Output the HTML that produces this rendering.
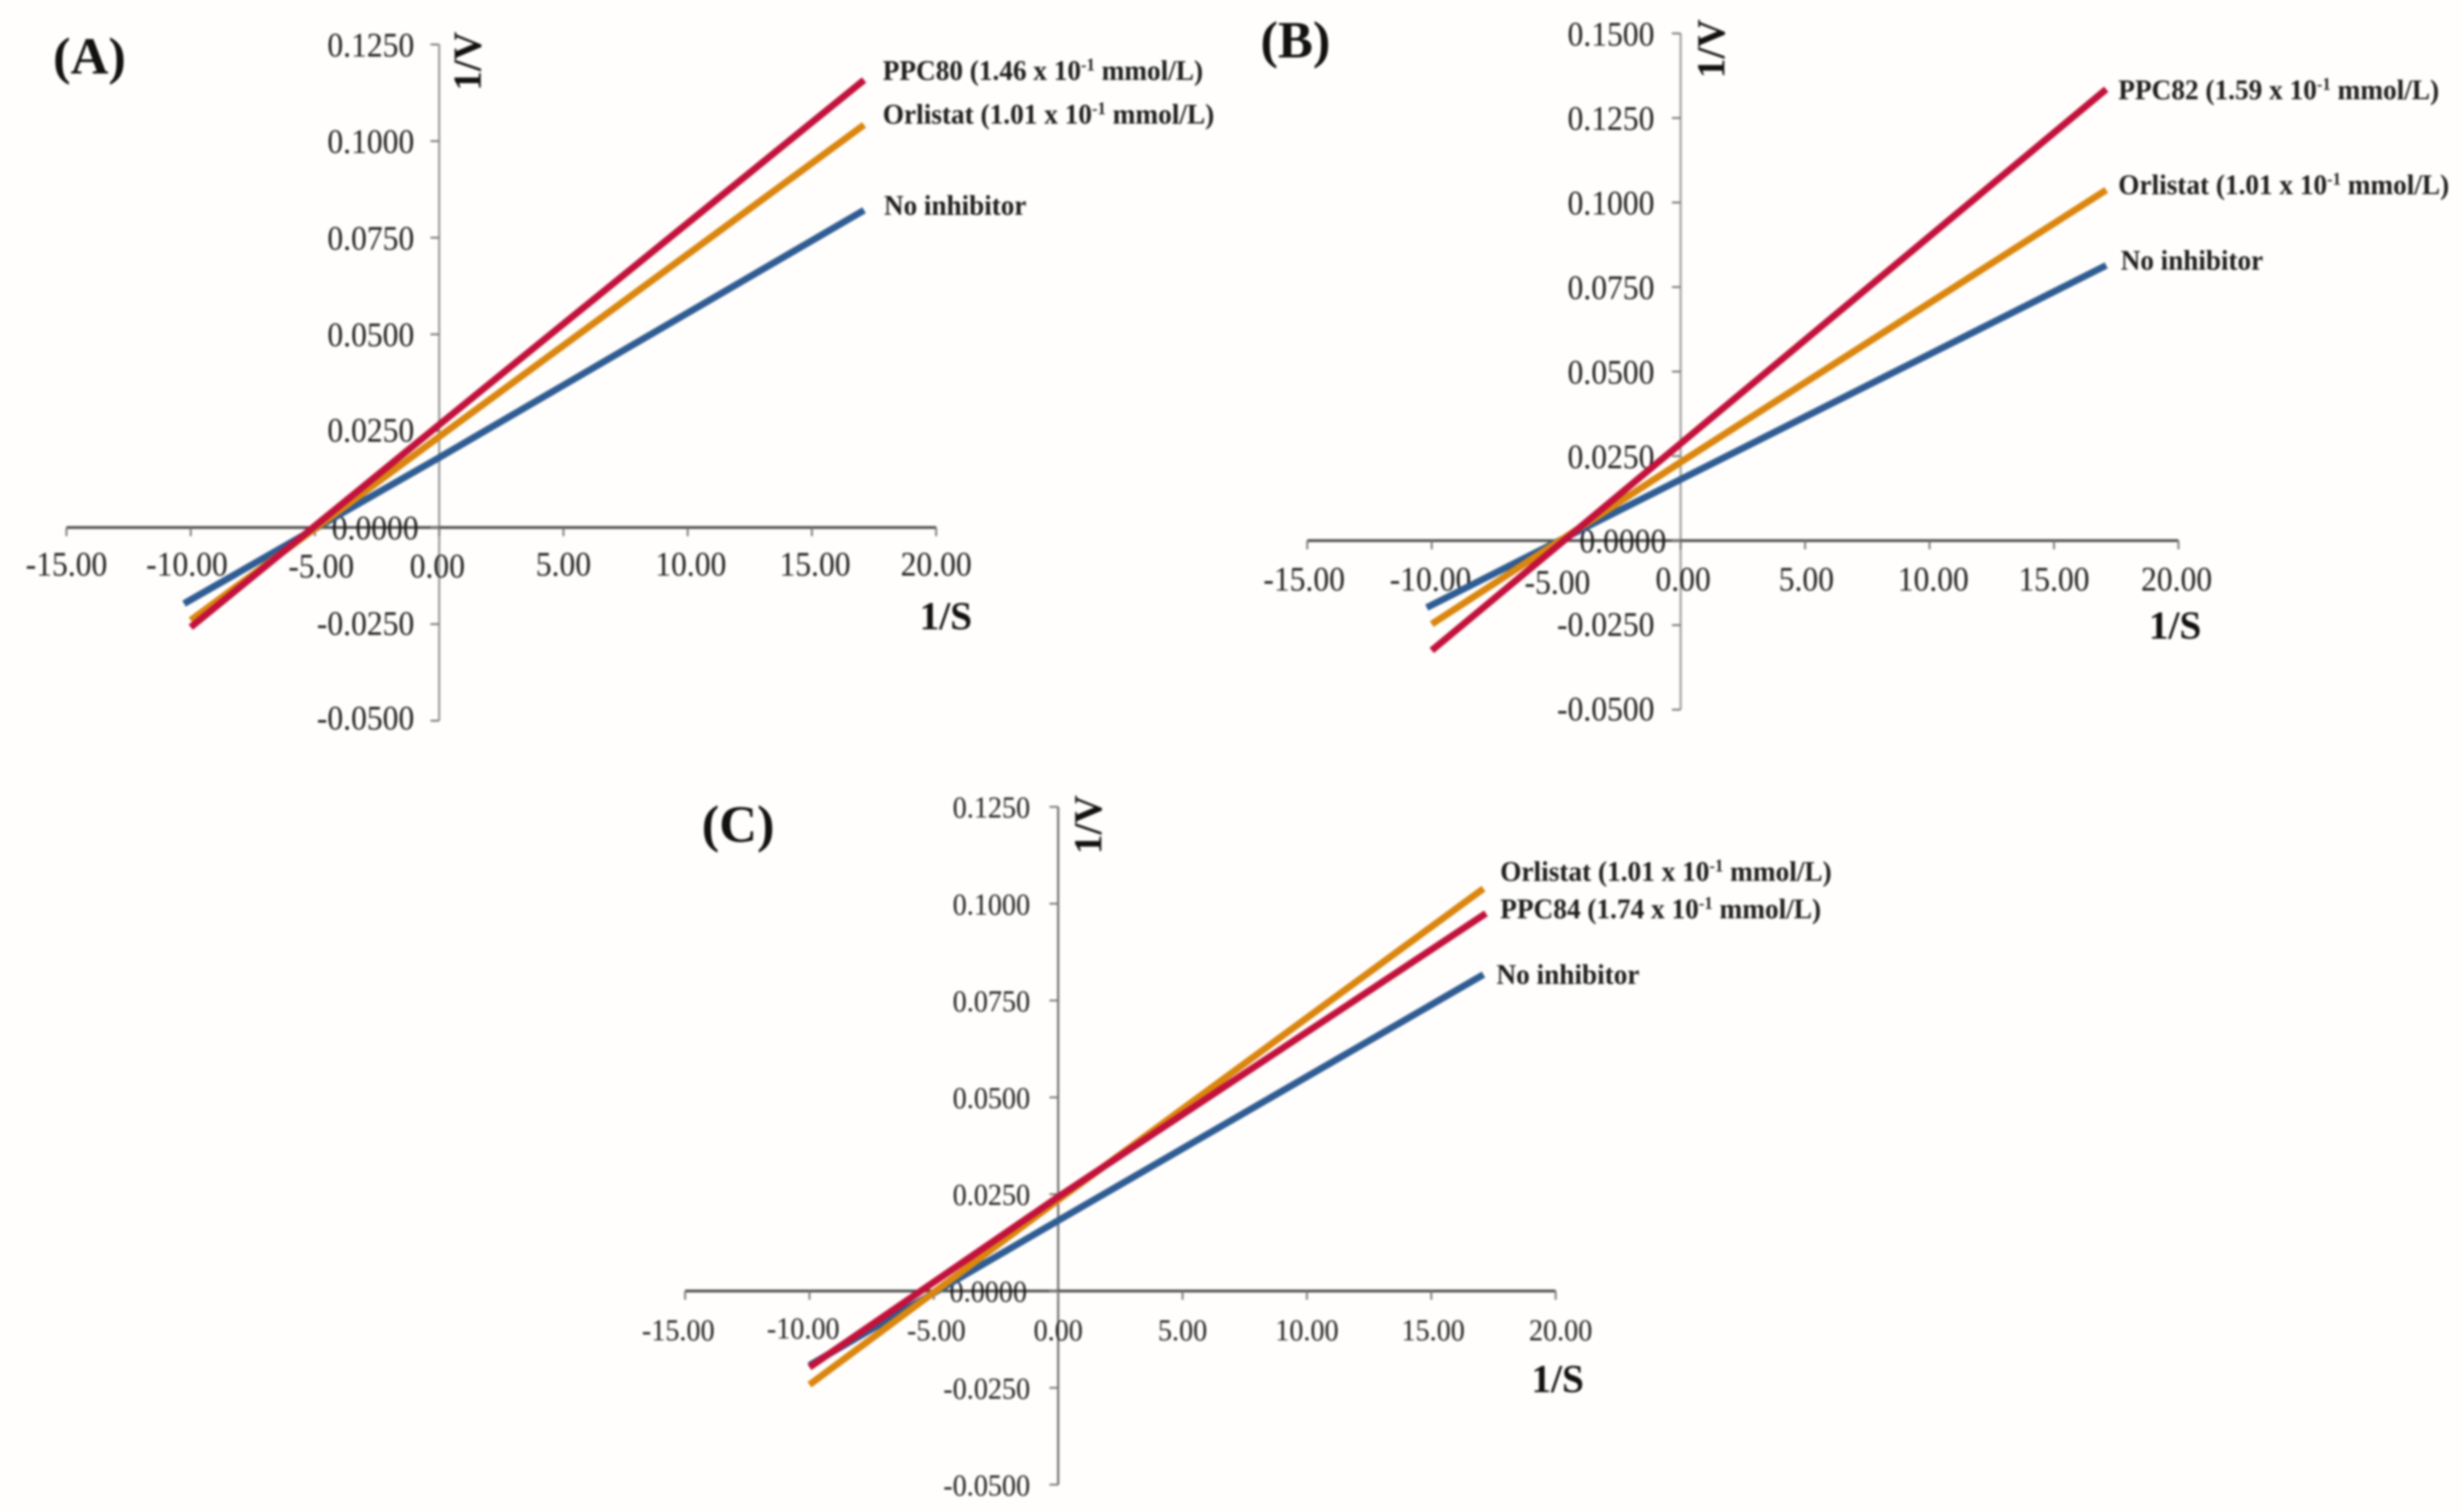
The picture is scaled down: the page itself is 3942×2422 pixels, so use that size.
<!DOCTYPE html>
<html lang="en">
<head>
<meta charset="utf-8">
<title>Lineweaver-Burk plots</title>
<style>
html,body{margin:0;padding:0;background:#fffefc;}
svg{display:block;filter:blur(1.8px);}
text{font-family:"Liberation Serif",serif;fill:#1c1c1c;}
.lab{font-weight:bold;font-size:46px;}
.sup{font-size:28px;}
.title{font-weight:bold;font-size:63px;fill:#111;}
.panel{font-weight:bold;font-size:84px;fill:#111;}
</style>
</head>
<body>
<svg id="chart" xmlns="http://www.w3.org/2000/svg" width="3942" height="2422" viewBox="0 0 3942 2422">
<rect x="0" y="0" width="3942" height="2422" fill="#fffefc"/>
<g id="panelA"></g>
<g id="panelB"></g>
<g id="panelC"></g>
<g>
<text class="panel" x="85" y="118">(A)</text>
<text class="title" transform="translate(770,98) rotate(-90)" text-anchor="middle">1/V</text>
<text class="title" x="1515" y="1008" text-anchor="middle">1/S</text>
<text class="lab" x="1414" y="128" textLength="513" lengthAdjust="spacingAndGlyphs">PPC80 (1.46 x 10<tspan class="sup" dy="-15">-1</tspan><tspan dy="15"> mmol/L)</tspan></text>
<text class="lab" x="1414" y="198" textLength="531" lengthAdjust="spacingAndGlyphs">Orlistat (1.01 x 10<tspan class="sup" dy="-15">-1</tspan><tspan dy="15"> mmol/L)</tspan></text>
<text class="lab" x="1416" y="344" textLength="228" lengthAdjust="spacingAndGlyphs">No inhibitor</text>
</g>
<g>
<text class="panel" x="2019" y="92">(B)</text>
<text class="title" transform="translate(2762,78) rotate(-90)" text-anchor="middle">1/V</text>
<text class="title" x="3484" y="1023" text-anchor="middle">1/S</text>
<text class="lab" x="3393" y="159" textLength="514" lengthAdjust="spacingAndGlyphs">PPC82 (1.59 x 10<tspan class="sup" dy="-15">-1</tspan><tspan dy="15"> mmol/L)</tspan></text>
<text class="lab" x="3393" y="311" textLength="530" lengthAdjust="spacingAndGlyphs">Orlistat (1.01 x 10<tspan class="sup" dy="-15">-1</tspan><tspan dy="15"> mmol/L)</tspan></text>
<text class="lab" x="3397" y="432" textLength="228" lengthAdjust="spacingAndGlyphs">No inhibitor</text>
</g>
<g>
<text class="panel" x="1124" y="1348">(C)</text>
<text class="title" transform="translate(1764,1321) rotate(-90)" text-anchor="middle">1/V</text>
<text class="title" x="2495" y="2230" text-anchor="middle">1/S</text>
<text class="lab" x="2403" y="1411" textLength="531" lengthAdjust="spacingAndGlyphs">Orlistat (1.01 x 10<tspan class="sup" dy="-15">-1</tspan><tspan dy="15"> mmol/L)</tspan></text>
<text class="lab" x="2403" y="1471" textLength="514" lengthAdjust="spacingAndGlyphs">PPC84 (1.74 x 10<tspan class="sup" dy="-15">-1</tspan><tspan dy="15"> mmol/L)</tspan></text>
<text class="lab" x="2397" y="1576" textLength="229" lengthAdjust="spacingAndGlyphs">No inhibitor</text>
</g>
</svg>
<script>
// Axis ticks
const xTickValues = [-15, -10, -5, 0, 5, 10, 15, 20];
const xTickLabels = ["-15.00", "-10.00", "-5.00", "0.00", "5.00", "10.00", "15.00", "20.00"];
const yTickValuesAC = [-0.05, -0.025, 0, 0.025, 0.05, 0.075, 0.1, 0.125];
const yTickLabelsAC = ["-0.0500", "-0.0250", "0.0000", "0.0250", "0.0500", "0.0750", "0.1000", "0.1250"];
const yTickValuesB = [-0.05, -0.025, 0, 0.025, 0.05, 0.075, 0.1, 0.125, 0.15];
const yTickLabelsB = ["-0.0500", "-0.0250", "0.0000", "0.0250", "0.0500", "0.0750", "0.1000", "0.1250", "0.1500"];

// Panel A series (1/S, 1/V)
const aNoInhibitorX = [-10.27, 0, 17.1];
const aNoInhibitorY = [-0.0197, 0.0181, 0.0821];
const aOrlistatX = [-10, 0, 17.1];
const aOrlistatY = [-0.024, 0.0235, 0.1042];
const aPpc80X = [-10, 0, 17.1];
const aPpc80Y = [-0.0258, 0.0266, 0.1158];

// Panel B series
const bNoInhibitorX = [-10.2, 0, 17.1];
const bNoInhibitorY = [-0.0198, 0.0181, 0.0814];
const bOrlistatX = [-10, 0, 17.1];
const bOrlistatY = [-0.0247, 0.0232, 0.1037];
const bPpc82X = [-10, 0, 17.1];
const bPpc82Y = [-0.0325, 0.0287, 0.1335];

// Panel C series
const cNoInhibitorX = [-10, 0, 17.1];
const cNoInhibitorY = [-0.0192, 0.0182, 0.0817];
const cOrlistatX = [-10, 0, 17.1];
const cOrlistatY = [-0.0242, 0.0235, 0.1039];
const cPpc84X = [-10, 0, 17.2];
const cPpc84Y = [-0.0197, 0.0243, 0.0975];

const NS = "http://www.w3.org/2000/svg";
const BLUE = "#2f5c93";
const ORANGE = "#da860f";
const RED = "#c2123c";
const LABEL_SQUEEZE = 0.92;

function make(parent, tag, attrs) {
  const el = document.createElementNS(NS, tag);
  for (const k in attrs) el.setAttribute(k, attrs[k]);
  parent.appendChild(el);
  return el;
}

function drawPanel(cfg) {
  const g = document.getElementById(cfg.id);
  const xs = v => cfg.x0 + v * cfg.ux;
  const ys = v => cfg.y0 - v * cfg.uy;
  const yMin = Math.min.apply(null, cfg.yVals), yMax = Math.max.apply(null, cfg.yVals);
  const xMin = Math.min.apply(null, xTickValues), xMax = Math.max.apply(null, xTickValues);

  const yAxis = make(g, "line", {x1: xs(0), x2: xs(0), y1: ys(yMax), y2: ys(yMin), stroke: cfg.yAxisColor, "stroke-width": 3.5});
  
  

  const xAxis = make(g, "line", {x1: xs(xMin), x2: xs(xMax), y1: ys(0), y2: ys(0), stroke: "#4e4e4e", "stroke-width": 4.5});
  
  

  xTickValues.forEach((v, i) => {
    const t = make(g, "line", {x1: xs(v), x2: xs(v), y1: ys(0), y2: ys(0) + 14, stroke: "#777", "stroke-width": 3});
    
    
    const n = cfg.xNudge[v] || [0, 0];
    const lbl = make(g, "text", {
      transform: "translate(" + (xs(v) + n[0]) + "," + (cfg.xLabelBase + n[1]) + ") scale(" + LABEL_SQUEEZE + ",1)",
      "text-anchor": "middle", "font-size": cfg.fs
    });
    lbl.textContent = xTickLabels[i];
    
    
  });

  cfg.yVals.forEach((v, i) => {
    const t = make(g, "line", {x1: xs(0) - 14, x2: xs(0), y1: ys(v), y2: ys(v), stroke: "#777", "stroke-width": 3});
    
    
    const right = xs(0) + (v === 0 ? cfg.zeroRight : cfg.yLabelRight);
    const nudge = cfg.yNudge[v] || 0;
    const lbl = make(g, "text", {
      transform: "translate(" + right + "," + (ys(v) + cfg.fs * 0.33 + 1 + nudge) + ") scale(" + LABEL_SQUEEZE + ",1)",
      "text-anchor": "end", "font-size": cfg.fs
    });
    lbl.textContent = cfg.yLabels[i];
    
    
  });

  cfg.series.forEach(s => {
    const pts = s.x.map((xv, i) => xs(xv) + "," + ys(s.y[i])).join(" ");
    const line = make(g, "polyline", {points: pts, fill: "none", stroke: s.color, "stroke-width": 11, "stroke-linecap": "butt", "stroke-linejoin": "round"});
    
    
  });
}

drawPanel({
  id: "panelA", name: "panel-a", x0: 703.5, ux: 39.8, y0: 845, uy: 6190, fs: 55,
  yAxisColor: "#9a9a9a", yLabelRight: -40, zeroRight: -33, xLabelBase: 922,
  xNudge: {"-10": [-6, 0], "-5": [10, 3], "0": [-3, 3], "10": [5, 0], "15": [5, 0]},
  yNudge: {"-0.05": -5, "-0.025": -2, "0.025": -2},
  yVals: yTickValuesAC, yLabels: yTickLabelsAC,
  series: [
    {key: "no-inhibitor", color: BLUE, x: aNoInhibitorX, y: aNoInhibitorY},
    {key: "orlistat", color: ORANGE, x: aOrlistatX, y: aOrlistatY},
    {key: "ppc80", color: RED, x: aPpc80X, y: aPpc80Y}
  ]
});

drawPanel({
  id: "panelB", name: "panel-b", x0: 2692, ux: 39.87, y0: 866, uy: 5416, fs: 55,
  yAxisColor: "#a0a0a0", yLabelRight: -42, zeroRight: -23, xLabelBase: 946,
  xNudge: {"-15": [-5, 0], "-10": [-2, 0], "-5": [2, 5], "0": [4, 0], "5": [2, 0], "10": [6, 0], "20": [-3, 0]},
  yNudge: {"-0.05": -2, "-0.025": -2},
  yVals: yTickValuesB, yLabels: yTickLabelsB,
  series: [
    {key: "no-inhibitor", color: BLUE, x: bNoInhibitorX, y: bNoInhibitorY},
    {key: "orlistat", color: ORANGE, x: bOrlistatX, y: bOrlistatY},
    {key: "ppc82", color: RED, x: bPpc82X, y: bPpc82Y}
  ]
});

drawPanel({
  id: "panelC", name: "panel-c", x0: 1695, ux: 39.84, y0: 2068, uy: 6204, fs: 49,
  yAxisColor: "#6e6e6e", yLabelRight: -45, zeroRight: -50, xLabelBase: 2147,
  xNudge: {"-15": [-11, 0], "-10": [-10, -3], "-5": [4, 0], "15": [3, 0], "20": [8, 0]},
  yNudge: {},
  yVals: yTickValuesAC, yLabels: yTickLabelsAC,
  series: [
    {key: "no-inhibitor", color: BLUE, x: cNoInhibitorX, y: cNoInhibitorY},
    {key: "orlistat", color: ORANGE, x: cOrlistatX, y: cOrlistatY},
    {key: "ppc84", color: RED, x: cPpc84X, y: cPpc84Y}
  ]
});
</script>
</body>
</html>
